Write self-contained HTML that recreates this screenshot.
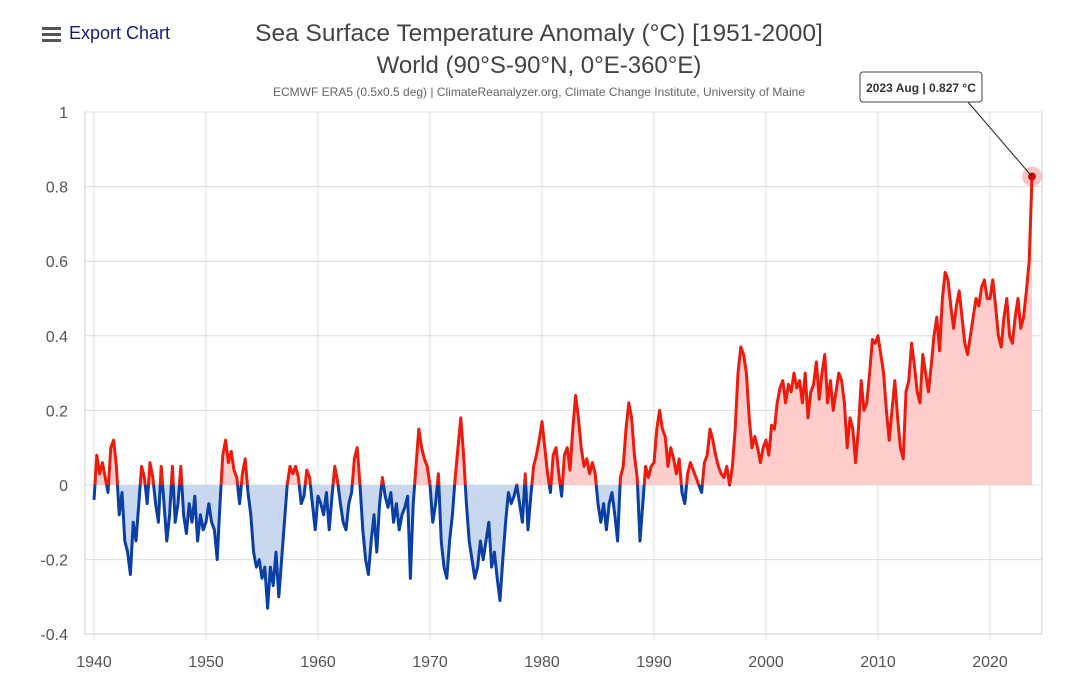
<!DOCTYPE html>
<html><head><meta charset="utf-8"><style>
body{margin:0;background:#fff;width:1080px;height:695px;overflow:hidden;font-family:"Liberation Sans",sans-serif}
svg{position:absolute;left:0;top:0}
</style></head><body>
<svg width="1080" height="695">
<defs>
<clipPath id="above"><rect x="0" y="0" width="1080" height="485"/></clipPath>
<clipPath id="below"><rect x="0" y="485" width="1080" height="300"/></clipPath>
</defs>
<g>
<rect x="42" y="27" width="19" height="3" fill="#555"/><rect x="42" y="33" width="19" height="3" fill="#555"/><rect x="42" y="39" width="19" height="3" fill="#555"/>
<text x="69" y="39" font-size="18" fill="#1a1a7a">Export Chart</text>
</g>
<text x="539" y="41" text-anchor="middle" font-size="24.5" fill="#444">Sea Surface Temperature Anomaly (°C) [1951-2000]</text>
<text x="539" y="73" text-anchor="middle" font-size="24" fill="#444">World (90°S-90°N, 0°E-360°E)</text>
<text x="539" y="96" text-anchor="middle" font-size="12" fill="#666">ECMWF ERA5 (0.5x0.5 deg) | ClimateReanalyzer.org, Climate Change Institute, University of Maine</text>
<g id="grid"></g>
<g id="series"></g>
<g id="axes"></g>
<g id="tip"></g>
</svg>
<script>
const years=[1940,1950,1960,1970,1980,1990,2000,2010,2020];
const yTicks=[1,0.8,0.6,0.4,0.2,0,-0.2,-0.4];
const yTickLabels=["1","0.8","0.6","0.4","0.2","0","-0.2","-0.4"];
const startYear=1940;
const stepYears=0.25;
const anomaly=[
-0.04,0.08,0.03,0.06, 0.02,-0.02,0.10,0.12, 0.05,-0.08,-0.02,-0.15, -0.18,-0.24,-0.10,-0.15,
-0.05,0.05,0.02,-0.05, 0.06,0.02,-0.05,-0.10, 0.05,-0.05,-0.15,-0.08, 0.05,-0.10,-0.05,0.05,
-0.08,-0.13,-0.05,-0.10, -0.03,-0.15,-0.08,-0.12, -0.10,-0.05,-0.10,-0.12, -0.20,-0.05,0.08,0.12,
0.06,0.09,0.04,0.02, -0.05,0.03,0.07,-0.02, -0.08,-0.18,-0.22,-0.20, -0.25,-0.22,-0.33,-0.22,
-0.27,-0.18,-0.30,-0.20, -0.10,0.00,0.05,0.03, 0.05,0.02,-0.05,-0.03, 0.04,0.02,-0.05,-0.12,
-0.03,-0.05,-0.08,-0.02, -0.12,-0.03,0.05,0.01, -0.05,-0.10,-0.12,-0.05, -0.02,0.07,0.10,0.00,
-0.12,-0.20,-0.24,-0.15, -0.08,-0.18,-0.05,0.02, -0.03,-0.06,-0.02,-0.10, -0.05,-0.12,-0.08,-0.06,
-0.03,-0.25,-0.05,0.05, 0.15,0.10,0.07,0.05, 0.00,-0.10,-0.05,0.03, -0.15,-0.22,-0.25,-0.15,
-0.08,0.02,0.10,0.18, 0.08,-0.05,-0.15,-0.20, -0.25,-0.22,-0.15,-0.20, -0.15,-0.10,-0.22,-0.18,
-0.25,-0.31,-0.20,-0.10, -0.02,-0.05,-0.03,0.00, -0.05,-0.10,0.03,-0.12, -0.03,0.05,0.08,0.12,
0.17,0.10,0.03,-0.02, 0.08,0.10,0.03,-0.03, 0.08,0.10,0.04,0.15, 0.24,0.18,0.10,0.05,
0.07,0.03,0.06,0.03, -0.05,-0.10,-0.05,-0.12, -0.05,-0.02,-0.08,-0.15, 0.02,0.05,0.15,0.22,
0.18,0.08,0.02,-0.15, -0.05,0.05,0.02,0.05, 0.06,0.15,0.20,0.15, 0.13,0.05,0.10,0.07,
0.03,0.07,-0.02,-0.05, 0.03,0.06,0.04,0.02, 0.00,-0.02,0.06,0.08, 0.15,0.12,0.08,0.05,
0.03,0.02,0.05,0.00, 0.05,0.15,0.30,0.37, 0.35,0.30,0.18,0.10, 0.13,0.10,0.06,0.10,
0.12,0.08,0.16,0.15, 0.22,0.26,0.28,0.22, 0.27,0.25,0.30,0.26, 0.28,0.22,0.30,0.18,
0.25,0.27,0.33,0.23, 0.30,0.35,0.22,0.28, 0.20,0.25,0.30,0.28, 0.22,0.10,0.18,0.15,
0.06,0.15,0.28,0.20, 0.22,0.30,0.39,0.38, 0.40,0.35,0.30,0.20, 0.12,0.20,0.28,0.18,
0.10,0.07,0.25,0.28, 0.38,0.32,0.25,0.22, 0.35,0.30,0.25,0.32, 0.40,0.45,0.36,0.50,
0.57,0.55,0.48,0.42, 0.48,0.52,0.45,0.38, 0.35,0.40,0.45,0.50, 0.48,0.53,0.55,0.50,
0.50,0.55,0.48,0.40, 0.37,0.45,0.50,0.40, 0.38,0.45,0.50,0.42, 0.45,0.52,0.60,0.827
];
const tipLabel="2023 Aug | 0.827 °C";
const NS="http://www.w3.org/2000/svg";
const X0=85,X1=1042,Y0=112,Y1=634;
function xs(t){return 94+(t-1940)*11.2;}
function ys(v){return 485-v*373;}
function mk(tag,attrs,parent){const e=document.createElementNS(NS,tag);for(const k in attrs)e.setAttribute(k,attrs[k]);parent.appendChild(e);return e;}
const grid=document.getElementById('grid'),series=document.getElementById('series'),axes=document.getElementById('axes'),tip=document.getElementById('tip');
mk('rect',{x:X0,y:Y0,width:X1-X0,height:Y1-Y0,fill:'none',stroke:'#ccc'},grid);
yTicks.forEach((v,i)=>{
 const l=mk('line',{x1:X0,x2:X1,y1:ys(v),y2:ys(v),stroke:'#dcdcdc','stroke-width':1},grid);
 
 
 const t=mk('text',{x:68,y:ys(v)+6,'text-anchor':'end','font-size':16,fill:'#555'},axes);
 t.textContent=yTickLabels[i];
 
 
});
years.forEach(yr=>{
 const l=mk('line',{x1:xs(yr),x2:xs(yr),y1:Y0,y2:Y1+6,stroke:'#dcdcdc','stroke-width':1},grid);
 
 
 const t=mk('text',{x:xs(yr),y:667,'text-anchor':'middle','font-size':16,fill:'#555'},axes);
 t.textContent=yr;
 
 
});
const pts=anomaly.map((v,i)=>[xs(startYear+i*stepYears),ys(v)]);
const line=pts.map((p,i)=>(i?'L':'M')+p[0].toFixed(1)+','+p[1].toFixed(1)).join('');
const area=line+'L'+pts[pts.length-1][0].toFixed(1)+','+ys(0)+'L'+pts[0][0].toFixed(1)+','+ys(0)+'Z';
const fa=mk('path',{d:area,fill:'#ffcdcb','clip-path':'url(#above)'},series);


const fb=mk('path',{d:area,fill:'#c9d7ef','clip-path':'url(#below)'},series);


const la=mk('path',{d:line,fill:'none',stroke:'#ee1a0c','stroke-width':3,'stroke-linejoin':'round','clip-path':'url(#above)'},series);


const lb=mk('path',{d:line,fill:'none',stroke:'#0a3fa5','stroke-width':3,'stroke-linejoin':'round','clip-path':'url(#below)'},series);


const last=pts[pts.length-1];
const halo=mk('circle',{cx:last[0],cy:last[1],r:10,fill:'rgba(238,26,12,0.25)'},tip);


const dot=mk('circle',{cx:last[0],cy:last[1],r:4,fill:'#c8100a'},tip);


const cl=mk('line',{x1:968,y1:102,x2:last[0],y2:last[1],stroke:'#222','stroke-width':1},tip);


const box=mk('rect',{x:860,y:72,width:122,height:30,rx:3,fill:'#fff',stroke:'#444','stroke-width':1},tip);


const tt=mk('text',{x:921,y:92,'text-anchor':'middle','font-size':12,'font-weight':'bold',fill:'#333'},tip);
tt.textContent=tipLabel;


</script>
</body></html>
